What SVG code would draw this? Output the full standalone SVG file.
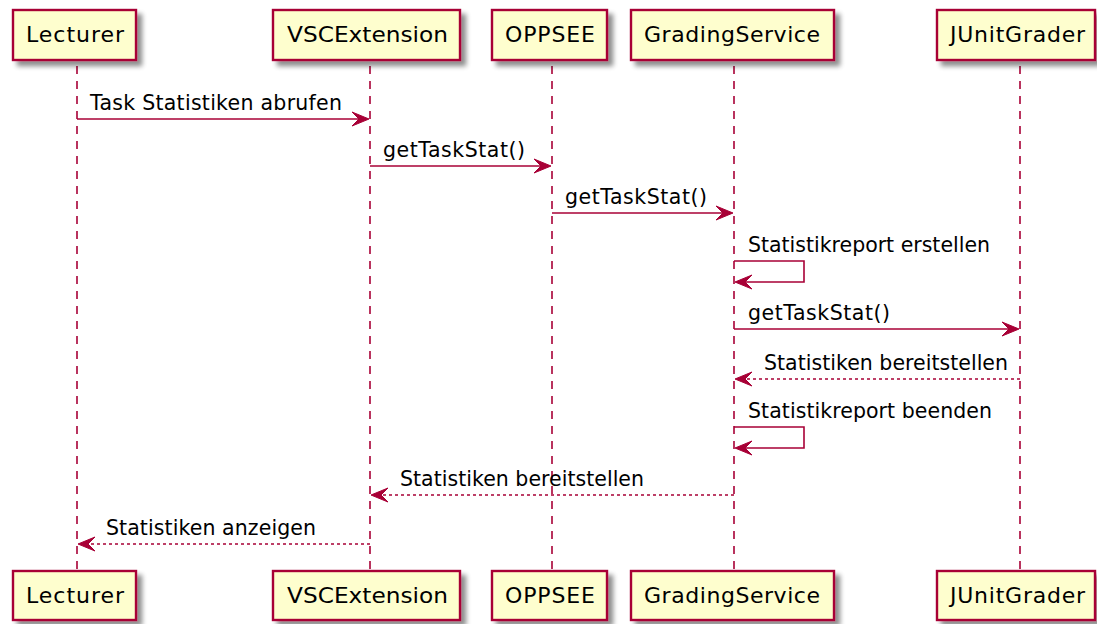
<svg xmlns="http://www.w3.org/2000/svg" width="1097" height="624" viewBox="0 0 1097 624">
  <defs>
    <filter id="shadow" x="-10%" y="-20%" width="130%" height="160%">
      <feGaussianBlur in="SourceAlpha" stdDeviation="2.6" result="blur"/>
      <feOffset in="blur" dx="5" dy="5" result="off"/>
      <feComponentTransfer in="off" result="soft">
        <feFuncA type="linear" slope="0.45"/>
      </feComponentTransfer>
      <feMerge>
        <feMergeNode in="soft"/>
        <feMergeNode in="SourceGraphic"/>
      </feMerge>
    </filter>
  </defs>
  <style>
    .box { fill: #FEFECE; stroke: #A80036; stroke-width: 2.4; filter: url(#shadow); }
    .pname { font-family: "DejaVu Sans", sans-serif; font-size: 22px; fill: #000; text-anchor: middle; }
    .life { stroke: #A80036; stroke-width: 1.6; stroke-dasharray: 8,7; fill: none; }
    .msg { stroke: #A80036; stroke-width: 1.6; fill: none; }
    .ret { stroke: #A80036; stroke-width: 1.6; fill: none; stroke-dasharray: 3,3; }
    .head { fill: #A80036; stroke: #A80036; stroke-width: 1; stroke-linejoin: miter; }
    .label { font-family: "DejaVu Sans", sans-serif; font-size: 20.5px; fill: #000; }
  </style>

  <rect width="1097" height="624" fill="#FFFFFF"/>

  <!-- lifelines -->
  <g id="lifelines">
    <line class="life" x1="77" y1="66" x2="77" y2="571"/>
    <line class="life" x1="370" y1="66" x2="370" y2="571"/>
    <line class="life" x1="552" y1="66" x2="552" y2="571"/>
    <line class="life" x1="734" y1="66" x2="734" y2="571"/>
    <line class="life" x1="1020" y1="66" x2="1020" y2="571"/>
  </g>

  <!-- participants, head and foot -->
  <g id="lecturer">
    <rect class="box" x="13" y="10" width="123" height="50"/>
    <text class="pname" x="75" y="42" textLength="98" lengthAdjust="spacing">Lecturer</text>
    <rect class="box" x="13" y="571" width="123" height="49"/>
    <text class="pname" x="75" y="603" textLength="98" lengthAdjust="spacing">Lecturer</text>
  </g>
  <g id="vscextension">
    <rect class="box" x="273" y="10" width="187" height="50"/>
    <text class="pname" x="367.5" y="42" textLength="161" lengthAdjust="spacingAndGlyphs">VSCExtension</text>
    <rect class="box" x="273" y="571" width="187" height="49"/>
    <text class="pname" x="367.5" y="603" textLength="161" lengthAdjust="spacingAndGlyphs">VSCExtension</text>
  </g>
  <g id="oppsee">
    <rect class="box" x="492" y="10" width="115" height="50"/>
    <text class="pname" x="550" y="42" textLength="90" lengthAdjust="spacing">OPPSEE</text>
    <rect class="box" x="492" y="571" width="115" height="49"/>
    <text class="pname" x="550" y="603" textLength="90" lengthAdjust="spacing">OPPSEE</text>
  </g>
  <g id="gradingservice">
    <rect class="box" x="631" y="10" width="203" height="50"/>
    <text class="pname" x="732" y="42" textLength="176" lengthAdjust="spacing">GradingService</text>
    <rect class="box" x="631" y="571" width="203" height="49"/>
    <text class="pname" x="732" y="603" textLength="176" lengthAdjust="spacing">GradingService</text>
  </g>
  <g id="junitgrader">
    <rect class="box" x="937" y="10" width="158" height="50"/>
    <text class="pname" x="1017.5" y="42" textLength="135" lengthAdjust="spacing">JUnitGrader</text>
    <rect class="box" x="937" y="571" width="158" height="49"/>
    <text class="pname" x="1017.5" y="603" textLength="135" lengthAdjust="spacing">JUnitGrader</text>
  </g>

  <!-- messages -->
  <g id="connectors">
    <!-- Lecturer -> VSCExtension -->
    <line class="msg" x1="77" y1="119" x2="366" y2="119"/>
    <path class="head" d="M369,119 L352,112 L359,119 L352,126 Z"/>
    <text class="label" x="90" y="110" textLength="252" lengthAdjust="spacing">Task Statistiken abrufen</text>

    <!-- VSCExtension -> OPPSEE -->
    <line class="msg" x1="370" y1="166" x2="548" y2="166"/>
    <path class="head" d="M551,166 L534,159 L541,166 L534,173 Z"/>
    <text class="label" x="383" y="157" textLength="142" lengthAdjust="spacing">getTaskStat()</text>

    <!-- OPPSEE -> GradingService -->
    <line class="msg" x1="552" y1="213" x2="730" y2="213"/>
    <path class="head" d="M733,213 L716,206 L723,213 L716,220 Z"/>
    <text class="label" x="565" y="204" textLength="142" lengthAdjust="spacing">getTaskStat()</text>

    <!-- GradingService self call -->
    <polyline class="msg" points="734,261 804,261 804,282 738,282"/>
    <path class="head" d="M735,282 L752,275 L745,282 L752,289 Z"/>
    <text class="label" x="748" y="252" textLength="242" lengthAdjust="spacing">Statistikreport erstellen</text>

    <!-- GradingService -> JUnitGrader -->
    <line class="msg" x1="734" y1="329" x2="1016" y2="329"/>
    <path class="head" d="M1019,329 L1002,322 L1009,329 L1002,336 Z"/>
    <text class="label" x="748" y="320" textLength="142" lengthAdjust="spacing">getTaskStat()</text>

    <!-- JUnitGrader reply -->
    <line class="ret" x1="1020" y1="379" x2="739" y2="379"/>
    <path class="head" d="M735,379 L752,372 L745,379 L752,386 Z"/>
    <text class="label" x="764" y="370" textLength="244" lengthAdjust="spacing">Statistiken bereitstellen</text>

    <!-- GradingService self call -->
    <polyline class="msg" points="734,427 804,427 804,448 738,448"/>
    <path class="head" d="M735,448 L752,441 L745,448 L752,455 Z"/>
    <text class="label" x="748" y="418" textLength="244" lengthAdjust="spacing">Statistikreport beenden</text>

    <!-- GradingService reply to VSCExtension -->
    <line class="ret" x1="734" y1="495" x2="375" y2="495"/>
    <path class="head" d="M371,495 L388,488 L381,495 L388,502 Z"/>
    <text class="label" x="400" y="486" textLength="244" lengthAdjust="spacing">Statistiken bereitstellen</text>

    <!-- VSCExtension reply to Lecturer -->
    <line class="ret" x1="370" y1="544" x2="82" y2="544"/>
    <path class="head" d="M78,544 L95,537 L88,544 L95,551 Z"/>
    <text class="label" x="106" y="535" textLength="210" lengthAdjust="spacing">Statistiken anzeigen</text>
  </g>
</svg>
